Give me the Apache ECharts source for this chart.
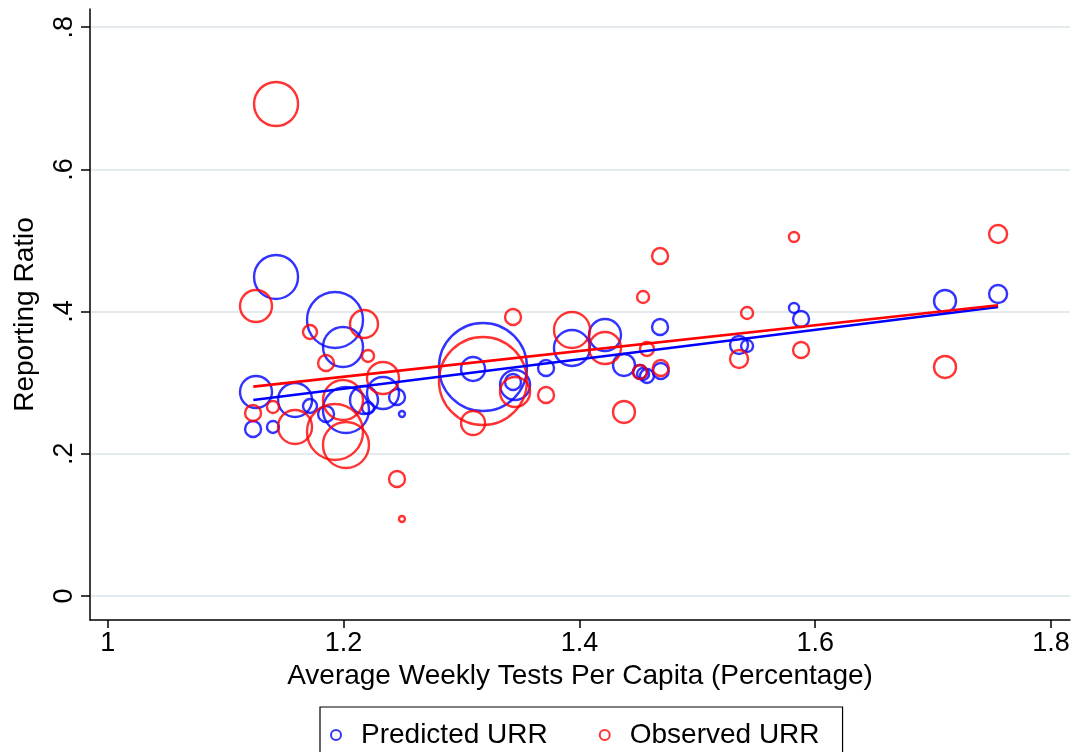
<!DOCTYPE html>
<html>
<head>
<meta charset="utf-8">
<script src="https://cdn.jsdelivr.net/npm/echarts@6/dist/echarts.min.js"></script>
<style>
html,body{margin:0;padding:0;background:#fff;}
#chart{width:1074px;height:752px;}
</style>
</head>
<body>
<div id="chart"></div>
<script>
// ---- data ----
const xTicks = [1, 1.2, 1.4, 1.6, 1.8];
const xTickLabels = ['1', '1.2', '1.4', '1.6', '1.8'];
const yTicks = [0, 0.2, 0.4, 0.6, 0.8];
const yTickLabels = ['0', '.2', '.4', '.6', '.8'];

const testsPerCapita = [1.1232, 1.1257, 1.1401, 1.1427, 1.1588, 1.1715, 1.1851, 1.1927, 1.1995, 1.2020,
  1.2173, 1.2207, 1.2334, 1.2453, 1.2495, 1.3098, 1.3182, 1.3437, 1.3454, 1.3717,
  1.3937, 1.4217, 1.4378, 1.4514, 1.4540, 1.4573, 1.4684, 1.4690, 1.5354, 1.5422,
  1.5820, 1.5880, 1.7101, 1.7551];
const predictedURR = [0.2349, 0.2869, 0.2377, 0.4487, 0.2757, 0.2672, 0.2560, 0.3882, 0.3502, 0.2616,
  0.2757, 0.2644, 0.2855, 0.2799, 0.2560, 0.3193, 0.3221, 0.3010, 0.2968, 0.3207,
  0.3488, 0.3671, 0.3249, 0.3150, 0.3122, 0.3094, 0.3783, 0.3165, 0.3530, 0.3516,
  0.4051, 0.3896, 0.4149, 0.4248];
const observedURR = [0.2574, 0.4079, 0.2658, 0.6920, 0.2377, 0.3713, 0.3277, 0.2307, 0.2757, 0.2124,
  0.3826, 0.3376, 0.3066, 0.1646, 0.1083, 0.2433, 0.3024, 0.3924, 0.2869, 0.2827,
  0.3741, 0.3488, 0.2588, 0.3150, 0.4205, 0.3474, 0.4782, 0.3207, 0.3333, 0.3980,
  0.5049, 0.3460, 0.3221, 0.5091];
const weights = [64, 256, 36, 484, 289, 49, 64, 784, 400, 529,
  196, 36, 256, 64, 9, 144, 1936, 64, 225, 64,
  324, 256, 121, 49, 36, 49, 64, 64, 81, 36,
  25, 64, 121, 81];

const fitX = [1.1234, 1.7551];
const predFitY = [0.2757, 0.4065];
const obsFitY = [0.2944, 0.4090];

// ---- build ----
const BLUE = '#0000ff', RED = '#ff0000';
const FONT = 'Liberation Sans, Arial, Helvetica, sans-serif';
const predData = testsPerCapita.map((x, i) => [x, predictedURR[i], weights[i]]);
const obsData = testsPerCapita.map((x, i) => [x, observedURR[i], weights[i]]);
const predFit = fitX.map((x, i) => [x, predFitY[i]]);
const obsFit = fitX.map((x, i) => [x, obsFitY[i]]);
const lab = (ticks, labels) => v => {
  const i = ticks.findIndex(t => Math.abs(t - v) < 1e-9);
  return i >= 0 ? labels[i] : '';
};
const sizeFn = v => 2 * Math.sqrt(v[2]);

const chart = echarts.init(document.getElementById('chart'), null, {renderer: 'canvas'});
chart.setOption({
  animation: false,
  backgroundColor: '#ffffff',
  textStyle: {fontFamily: FONT, color: '#000'},
  grid: {left: 90, right: 4, top: 9, bottom: 132, containLabel: false, outerBoundsMode: 'none'},
  xAxis: {
    type: 'value', min: 0.9849, max: 1.8161,
    name: 'Average Weekly Tests Per Capita (Percentage)',
    nameLocation: 'middle', nameGap: 40,
    nameTextStyle: {fontSize: 28, color: '#000', fontFamily: FONT},
    axisLine: {show: true, onZero: false, lineStyle: {color: '#000', width: 1.5}},
    axisTick: {show: true, length: 8, customValues: xTicks, lineStyle: {color: '#000', width: 1.5}},
    axisLabel: {customValues: xTicks, formatter: lab(xTicks, xTickLabels), fontSize: 27, color: '#000', margin: 10, fontFamily: FONT},
    splitLine: {show: false}
  },
  yAxis: {
    type: 'value', min: -0.0338, max: 0.8256,
    name: 'Reporting Ratio',
    nameLocation: 'middle', nameGap: 51,
    nameTextStyle: {fontSize: 28, color: '#000', fontFamily: FONT},
    axisLine: {show: true, onZero: false, lineStyle: {color: '#000', width: 1.5}},
    axisTick: {show: true, length: 9, customValues: yTicks, lineStyle: {color: '#000', width: 1.5}},
    axisLabel: {customValues: yTicks, formatter: lab(yTicks, yTickLabels), fontSize: 27, color: '#000', margin: 12, rotate: 90, fontFamily: FONT},
    splitLine: {show: true, lineStyle: {color: '#e3ebee', width: 2}}
  },
  legend: {
    left: 320, top: 707,
    orient: 'horizontal',
    borderColor: '#000', borderWidth: 1.2, borderRadius: 0,
    padding: [14, 23, 30, 10],
    itemGap: 51, itemWidth: 10, itemHeight: 10,
    textStyle: {fontSize: 28, color: '#000', fontFamily: FONT, padding: [0, 0, 0, 15]},
    data: [
      {name: 'Predicted URR', icon: 'circle', itemStyle: {color: 'rgba(0,0,0,0)', borderColor: BLUE, borderWidth: 2}},
      {name: 'Observed URR', icon: 'circle', itemStyle: {color: 'rgba(0,0,0,0)', borderColor: RED, borderWidth: 2}}
    ]
  },
  series: [
    {name: 'Predicted URR', type: 'scatter', data: predData, symbol: 'circle', symbolSize: sizeFn,
     itemStyle: {color: 'rgba(0,0,0,0)', borderColor: BLUE, borderWidth: 2.4}, emphasis: {disabled: true}, z: 2},
    {name: 'Observed URR', type: 'scatter', data: obsData, symbol: 'circle', symbolSize: sizeFn,
     itemStyle: {color: 'rgba(0,0,0,0)', borderColor: RED, borderWidth: 2.4}, emphasis: {disabled: true}, z: 3},
    {name: 'Fit Predicted', type: 'line', data: predFit, showSymbol: false, symbol: 'none',
     lineStyle: {color: BLUE, width: 2.6}, z: 4},
    {name: 'Fit Observed', type: 'line', data: obsFit, showSymbol: false, symbol: 'none',
     lineStyle: {color: RED, width: 2.6}, z: 5}
  ]
});
</script>
</body>
</html>
